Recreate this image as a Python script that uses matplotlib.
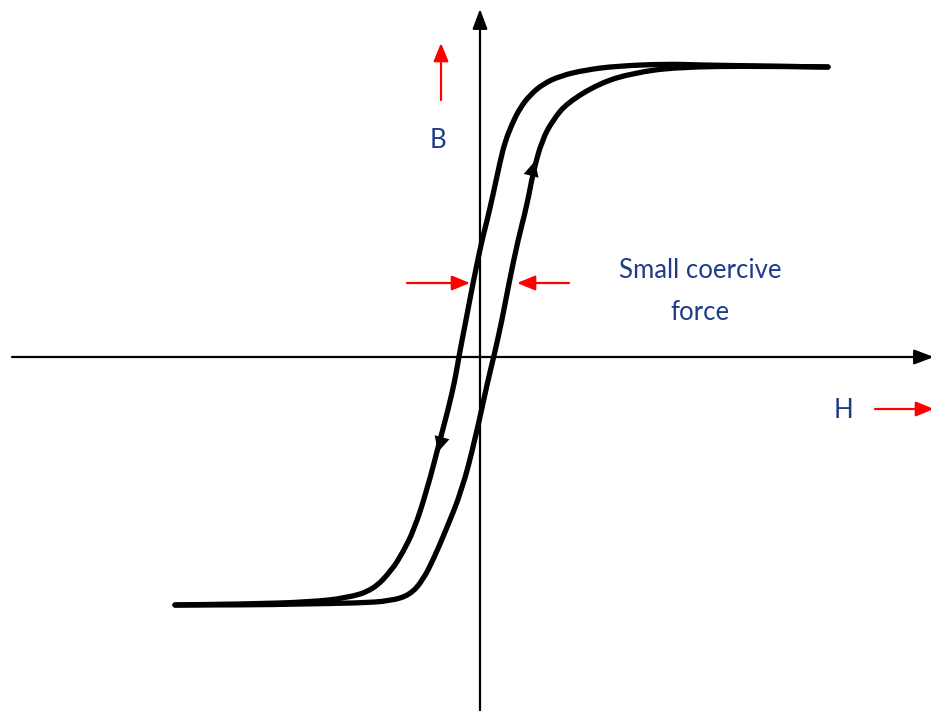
import matplotlib
matplotlib.use("Agg")
from matplotlib import pyplot
from matplotlib.path import Path
from matplotlib.patches import PathPatch

# hysteresis loop in pixel coordinates (y grows downward)
desc_x = [828, 760, 700, 667, 617, 585, 560, 543, 530, 520, 512, 505, 500, 493,
          486, 482, 473, 466, 459, 455, 448, 440, 427, 414, 403, 392, 373, 347, 310, 250, 175]
desc_y = [67, 66, 65, 64, 66, 70, 76, 84, 95, 108, 124, 142, 162, 195,
          225, 240, 283, 320, 356, 380, 410, 440, 490, 530, 552, 570, 590, 598, 602, 604, 605]

asc_x = [175, 250, 300, 360, 390, 410, 423, 434, 446, 462, 475, 488, 494, 502,
         509, 518, 527, 533, 542, 553, 567, 600, 633, 677, 760, 828]
asc_y = [605, 605, 604, 603, 601, 595, 580, 558, 530, 490, 440, 380, 356, 320,
         283, 240, 205, 173, 140, 120, 103, 83, 73, 67, 66, 67]

label_b = "B"
label_h = "H"
note_lines = ["Small coercive", "force"]

W, H = 931, 711
fig = pyplot.figure(figsize=(W / 100, H / 100), dpi=100)
ax = fig.add_axes([0, 0, 1, 1])
ax.set_xlim(0, W)
ax.set_ylim(H, 0)
ax.axis("off")


def smooth_path(xs, ys):
    """Quadratic B-spline style path: read points act as control points."""
    pts = list(zip(xs, ys))
    verts = [pts[0]]
    codes = [Path.MOVETO]
    for i in range(1, len(pts) - 1):
        mid = ((pts[i][0] + pts[i + 1][0]) / 2, (pts[i][1] + pts[i + 1][1]) / 2)
        if i == len(pts) - 2:
            mid = pts[-1]
        verts += [pts[i], mid]
        codes += [Path.CURVE3, Path.CURVE3]
    return Path(verts, codes)


# axes with arrow heads
ax.annotate("", xy=(480, 9), xytext=(480, H + 5), annotation_clip=False,
            arrowprops=dict(arrowstyle="-|>,head_length=1.2,head_width=0.45",
                            color="k", lw=1.6, shrinkA=0, shrinkB=0))
ax.annotate("", xy=(934, 357), xytext=(12, 357), annotation_clip=False,
            arrowprops=dict(arrowstyle="-|>,head_length=1.2,head_width=0.45",
                            color="k", lw=1.6, shrinkA=0, shrinkB=0))

# loop
for xs, ys in [(desc_x, desc_y), (asc_x, asc_y)]:
    ax.add_patch(PathPatch(smooth_path(xs, ys), fill=False, ec="k", lw=3.8,
                           capstyle="round", joinstyle="round"))

# direction arrows on the loop
head = dict(arrowstyle="-|>,head_length=1.1,head_width=0.55", color="k", lw=0,
            shrinkA=0, shrinkB=0)
ax.annotate("", xy=(438, 452), xytext=(444, 430), arrowprops=head)
ax.annotate("", xy=(535, 161), xytext=(529, 184), arrowprops=head)

# red arrows
red = dict(arrowstyle="-|>,head_length=1.1,head_width=0.45", color="red", lw=1.6,
           shrinkA=0, shrinkB=0)
ax.annotate("", xy=(441, 43), xytext=(441, 100), arrowprops=red)
ax.annotate("", xy=(470, 283), xytext=(407, 283), arrowprops=red)
ax.annotate("", xy=(517, 283), xytext=(569, 283), arrowprops=red)
ax.annotate("", xy=(934, 409), xytext=(875, 409), arrowprops=red,
            annotation_clip=False)

# labels
txt = "#1f3c88"
font = dict(color=txt, fontsize=18.5, family="Lato", ha="center", va="center")
ax.text(438, 141, label_b, **font)
ax.text(844, 410, label_h, **font)
ax.text(700, 271, note_lines[0], **font)
ax.text(700, 313, note_lines[1], **font)

fig.savefig("out.png", dpi=100)
